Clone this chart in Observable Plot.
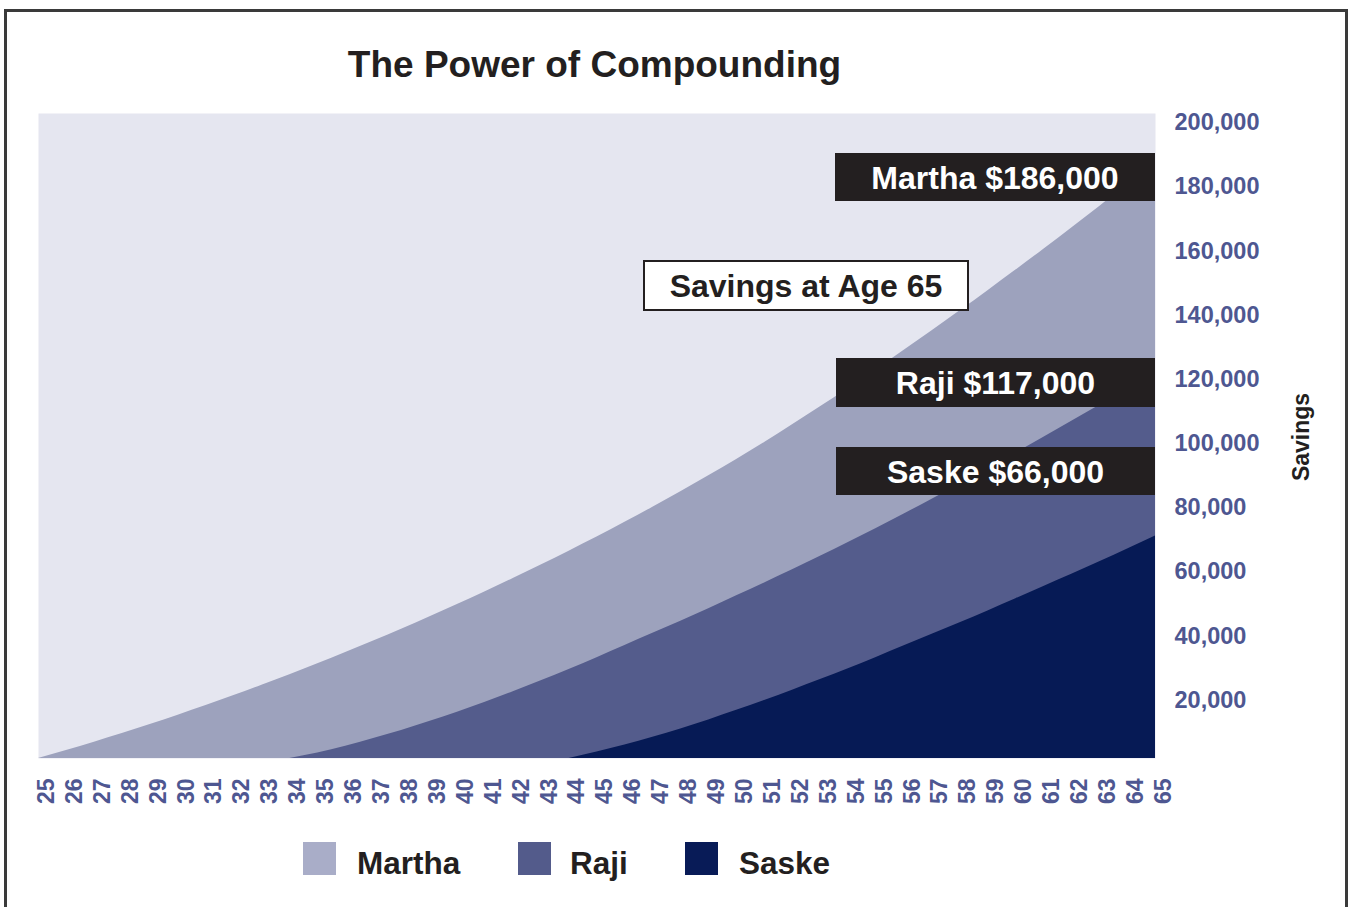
<!DOCTYPE html>
<html>
<head>
<meta charset="utf-8">
<script src="https://cdn.jsdelivr.net/npm/d3@7"></script>
<script src="https://cdn.jsdelivr.net/npm/@observablehq/plot@0.6"></script>
<style>
  html, body { margin: 0; padding: 0; background: #fff; }
  body { font-family: "Liberation Sans", Arial, sans-serif; }
  #wrap { position: relative; width: 1351px; height: 907px; overflow: hidden; }
  #chart { position: absolute; left: 0; top: 0; }
  .frameBorder { position: absolute; left: 4px; top: 9px; width: 1338px; height: 960px; border: 3px solid #3a3a3a; box-sizing: content-box; }
  .title { position: absolute; left: 0; width: 1189px; top: 45px; text-align: center; font-weight: bold; font-size: 37px; line-height: 40px; color: #231f20; }
  .box { position: absolute; display: flex; align-items: center; justify-content: center; font-weight: bold; font-size: 32px; box-sizing: border-box; white-space: nowrap; padding-top: 2px; }
  .dark { background: #231f20; color: #fff; }
  .light { background: #fff; color: #231f20; border: 2px solid #231f20; }
  .ylabel { position: absolute; left: 1301px; top: 437px; transform: translate(-50%, -50%) rotate(-90deg); font-weight: bold; font-size: 23px; color: #231f20; white-space: nowrap; }
  .sw { position: absolute; width: 33px; height: 33px; top: 842px; }
  .lt { position: absolute; top: 843px; font-weight: bold; font-size: 31.5px; line-height: 40px; color: #231f20; white-space: nowrap; }
</style>
</head>
<body>
<div id="wrap">
  <div id="chart"></div>
  <div class="frameBorder"></div>
  <div class="title">The Power of Compounding</div>
  <div class="ylabel">Savings</div>
  <div id="annotations"></div>
  <div id="legend"></div>
</div>
<script>
// ---- data ----
const ages = [25,26,27,28,29,30,31,32,33,34,35,36,37,38,39,40,41,42,43,44,45,
              46,47,48,49,50,51,52,53,54,55,56,57,58,59,60,61,62,63,64,65];
const seriesNames = ["Martha", "Raji", "Saske"];
const seriesColors = ["#9da2bd", "#545c8c", "#061a55"];
const legendColors = ["#a9adc8", "#535b8b", "#081b57"];
const startAges = [25, 34, 44];
const marthaValues = [0, 2500, 5100, 7800, 10600, 13500, 16500, 19600, 22800, 26100,
  29500, 33000, 36600, 40300, 44100, 48000, 52000, 56100, 60300, 64600,
  69000, 73600, 78300, 83100, 88100, 93200, 98500, 104000, 109600, 115300,
  121200, 127200, 133300, 139500, 145800, 152200, 158700, 165300, 172000, 179000, 186000];
const rajiValues = [0, 1700, 3800, 6200, 8700, 11500, 14400, 17500, 20800, 24200,
  27700, 31400, 35200, 39000, 42800, 46700, 50700, 54700, 58800, 63000,
  67300, 71700, 76200, 80800, 85500, 90300, 95200, 100100, 105100, 110100, 115100, 120100];
const saskeValues = [0, 2000, 4200, 6600, 9200, 12000, 15000, 18100, 21300, 24600,
  28000, 31500, 35100, 38700, 42300, 46000, 49800, 53600, 57400, 61300, 65300, 69300];
const yTicks = [20000, 40000, 60000, 80000, 100000, 120000, 140000, 160000, 180000, 200000];
const finalLabels = ["Martha $186,000", "Raji $117,000", "Saske $66,000"];
const boxTitle = "Savings at Age 65";

// ---- build table ----
const valueLists = [marthaValues, rajiValues, saskeValues];
const rows = [];
seriesNames.forEach((name, i) => {
  valueLists[i].forEach((v, j) => rows.push({name, age: startAges[i] + j, value: v}));
});

const tickColor = "#4e5791";
const chart = Plot.plot({
  width: 1351,
  height: 907,
  marginLeft: 38,
  marginRight: 196,
  marginTop: 113,
  marginBottom: 149,
  style: {fontFamily: "'Liberation Sans', Arial, sans-serif", background: "transparent"},
  x: {domain: [25, 65]},
  y: {domain: [0, 201000]},
  color: {domain: seriesNames, range: seriesColors},
  marks: [
    Plot.frame({fill: "#e5e6f0", stroke: null}),
    ...seriesNames.map(n => Plot.areaY(rows.filter(r => r.name === n), {
      x: "age", y1: 0, y2: "value", fill: "name", curve: "monotone-x"
    })),
    Plot.axisX({
      ticks: ages, tickFormat: d => String(d), tickSize: 0, tickRotate: -90,
      tickPadding: 20, fontSize: 23, fontWeight: "bold", fill: tickColor, dx: 8, label: null
    }),
    Plot.axisY({
      anchor: "right", ticks: yTicks, tickFormat: d3.format(","), tickSize: 0,
      tickPadding: 19, fontSize: 23.5, fontWeight: "bold", fill: tickColor, dy: 6, label: null
    })
  ]
});
document.getElementById("chart").appendChild(chart);

// ---- annotations ----
const ann = document.getElementById("annotations");
const boxes = [
  {text: finalLabels[0], cls: "dark", l: 835, t: 153, w: 320, h: 48},
  {text: boxTitle, cls: "light", l: 643, t: 260, w: 326, h: 51},
  {text: finalLabels[1], cls: "dark", l: 836, t: 358, w: 319, h: 49},
  {text: finalLabels[2], cls: "dark", l: 836, t: 447, w: 319, h: 48}
];
boxes.forEach(b => {
  const d = document.createElement("div");
  d.className = "box " + b.cls;
  d.style.left = b.l + "px"; d.style.top = b.t + "px";
  d.style.width = b.w + "px"; d.style.height = b.h + "px";
  d.textContent = b.text;
  ann.appendChild(d);
});

// ---- legend ----
const leg = document.getElementById("legend");
const swatchX = [303, 518, 685];
const textX = [357, 570, 739];
seriesNames.forEach((n, i) => {
  const s = document.createElement("div");
  s.className = "sw"; s.style.left = swatchX[i] + "px"; s.style.background = legendColors[i];
  leg.appendChild(s);
  const t = document.createElement("div");
  t.className = "lt"; t.style.left = textX[i] + "px"; t.textContent = n;
  leg.appendChild(t);
});
</script>
</body>
</html>
